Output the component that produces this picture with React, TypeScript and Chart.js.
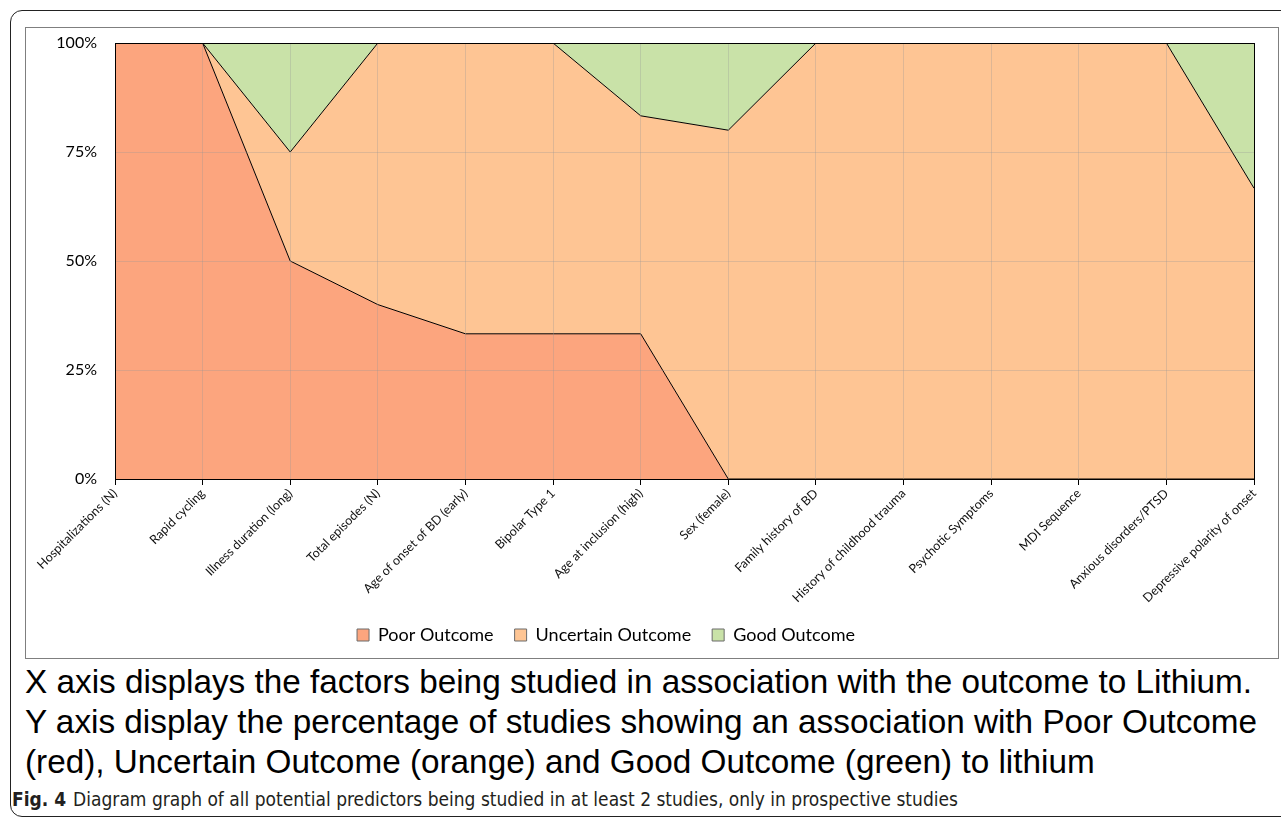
import React, { useEffect, useRef } from "react";
import { Chart, registerables } from "chart.js";

Chart.register(...registerables);

const categories = [
  "Hospitalizations (N)",
  "Rapid cycling",
  "Illness duration (long)",
  "Total episodes (N)",
  "Age of onset of BD (early)",
  "Bipolar Type 1",
  "Age at inclusion (high)",
  "Sex (female)",
  "Family history of BD",
  "History of childhood trauma",
  "Psychotic Symptoms",
  "MDI Sequence",
  "Anxious disorders/PTSD",
  "Depressive polarity of onset",
];

const poorOutcome = [100, 100, 50, 40, 33.3, 33.3, 33.3, 0, 0, 0, 0, 0, 0, 0];
const uncertainOutcome = [0, 0, 25, 60, 66.7, 66.7, 50, 80, 100, 100, 100, 100, 100, 66.7];
const goodOutcome = [0, 0, 25, 0, 0, 0, 16.7, 20, 0, 0, 0, 0, 0, 33.3];

const yTicks = [0, 25, 50, 75, 100];

const seriesNames = ["Poor Outcome", "Uncertain Outcome", "Good Outcome"];
const seriesColors = ["#FCA57E", "#FEC594", "#C9E2A8"];

const captionLines = [
  "X axis displays the factors being studied in association with the outcome to Lithium.",
  "Y axis display the percentage of studies showing an association with Poor Outcome",
  "(red), Uncertain Outcome (orange) and Good Outcome (green) to lithium",
];
const figLabel = "Fig. 4";
const figText = "Diagram graph of all potential predictors being studied in at least 2 studies, only in prospective studies";

const framePlugin = {
  id: "frameRect",
  afterLayout(chart: any) {
    const lg = chart.legend;
    if (lg) {
      lg.left -= 34;
      lg.right -= 34;
    }
  },
  afterDraw(chart: any) {
    const { ctx, chartArea } = chart;
    ctx.save();
    ctx.strokeStyle = "#000";
    ctx.lineWidth = 1;
    const l = Math.round(chartArea.left) + 0.5;
    const t = Math.round(chartArea.top) + 0.5;
    const r = Math.round(chartArea.right) + 0.5;
    const b = Math.round(chartArea.bottom) + 0.5;
    ctx.strokeRect(l, t, r - l, b - t);
    ctx.restore();
  },
};

function ChartBox() {
  const ref = useRef<HTMLCanvasElement | null>(null);
  useEffect(() => {
    if (!ref.current) return;
    const values = [poorOutcome, uncertainOutcome, goodOutcome];
    const chart = new Chart(ref.current, {
      type: "line",
      data: {
        labels: categories,
        datasets: values.map((v, i) => ({
          label: seriesNames[i],
          data: v,
          backgroundColor: seriesColors[i],
          borderColor: "#000",
          borderWidth: 1,
          pointRadius: 0,
          tension: 0,
          fill: i === 0 ? "origin" : "-1",
        })),
      },
      options: {
        animation: false,
        responsive: true,
        maintainAspectRatio: false,
        layout: { padding: { top: 15, right: 24, bottom: 4, left: 0 } },
        plugins: {
          tooltip: { enabled: false },
          legend: {
            position: "bottom",
            labels: {
              boxWidth: 12,
              boxHeight: 12,
              padding: 21,
              color: "#000",
              font: { family: "Lato, 'Open Sans', sans-serif", size: 18 },
              generateLabels: (c: any) => {
                const items = Chart.defaults.plugins.legend.labels.generateLabels(c);
                return items.map((it: any) => ({ ...it, strokeStyle: "#6b6b6b", lineWidth: 1 }));
              },
            },
          },
        },
        scales: {
          x: {
            grid: {
              z: 1,
              color: "rgba(150,150,150,0.3)",
              drawTicks: true,
              tickLength: 6,
              tickColor: "#000",
            },
            border: { display: true, color: "#000", width: 1, z: 2 },
            ticks: {
              autoSkip: false,
              maxRotation: 45,
              minRotation: 45,
              padding: 1,
              color: "#111",
              font: { family: "Lato, 'Open Sans', sans-serif", size: 12.5 },
            },
            afterFit: (s: any) => {
              s.height = 126;
            },
          },
          y: {
            stacked: true,
            min: 0,
            max: 100,
            afterBuildTicks: (s: any) => {
              s.ticks = yTicks.map((v) => ({ value: v }));
            },
            grid: {
              z: 1,
              drawTicks: true,
              tickLength: 15,
              tickColor: "rgba(0,0,0,0)",
              color: (ctx: any) => (ctx.tick && ctx.tick.value === 100 ? "rgba(0,0,0,0)" : "rgba(150,150,150,0.3)"),
            },
            border: { display: true, color: "#000", width: 1, z: 2 },
            ticks: {
              padding: 3,
              color: "#000",
              font: { family: "Lato, 'Open Sans', sans-serif", size: 16 },
              callback: (v: any) => `${v}%`,
            },
            afterFit: (s: any) => {
              s.width = 89;
            },
          },
        },
      },
      plugins: [framePlugin],
    });
    return () => chart.destroy();
  }, []);
  return <canvas ref={ref} />;
}

export default function App() {
  return (
    <div style={{ position: "fixed", inset: 0, overflow: "hidden", background: "#fff" }}>
      <div
        style={{
          position: "absolute",
          left: 10,
          top: 10,
          width: 1400,
          height: 807,
          border: "1.5px solid #222",
          borderRadius: 12,
          boxSizing: "border-box",
        }}
      />
      <div
        style={{
          position: "absolute",
          left: 25,
          top: 27,
          width: 1254,
          height: 632,
          border: "1px solid #7f7f7f",
          boxSizing: "border-box",
          background: "#fff",
        }}
      >
        <div style={{ position: "relative", width: "100%", height: "100%" }}>
          <ChartBox />
        </div>
      </div>
      <div
        style={{
          position: "absolute",
          left: 25,
          top: 662,
          fontFamily: "'Liberation Sans', Arial, sans-serif",
          fontSize: 33.3,
          lineHeight: "40px",
          color: "#000",
          whiteSpace: "nowrap",
        }}
      >
        {captionLines.map((l, i) => (
          <div key={i}>{l}</div>
        ))}
      </div>
      <div
        style={{
          position: "absolute",
          left: 12,
          top: 788,
          fontFamily: "'Liberation Sans Narrow', 'DejaVu Sans', sans-serif",
          fontStretch: "condensed",
          fontSize: 19,
          lineHeight: "22px",
          color: "#231f20",
          whiteSpace: "nowrap",
        }}
      >
        <b>{figLabel}</b>
        <span style={{ marginLeft: 7 }}>{figText}</span>
      </div>
    </div>
  );
}
